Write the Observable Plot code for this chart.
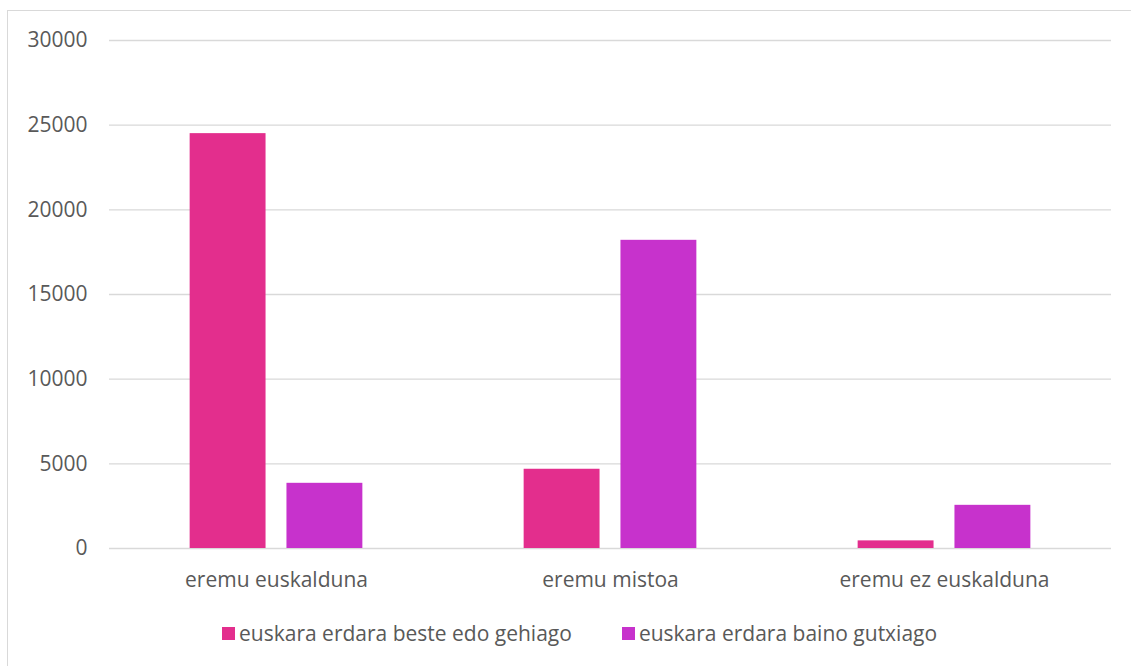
<!DOCTYPE html>
<html>
<head>
<meta charset="utf-8">
<script src="https://cdn.jsdelivr.net/npm/d3@7"></script>
<script src="https://cdn.jsdelivr.net/npm/@observablehq/plot@0.6"></script>
<style>
  body { margin: 0; background: #fff; }
  #wrap { position: relative; width: 1131px; height: 666px; overflow: hidden; font-family: "Open Sans", sans-serif; }
  #frame { position: absolute; left: 7px; top: 10px; width: 1140px; height: 680px; border: 1.5px solid #d9d9d9; box-sizing: border-box; }
  #chart { position: absolute; left: 0; top: 0; }
  #legend { position: absolute; left: 222px; top: 619px; display: flex; gap: 50px; font-size: 21px; color: #595959; }
  .item { display: flex; align-items: center; }
  .sw { width: 13px; height: 13px; margin-right: 4px; }
</style>
</head>
<body>
<div id="wrap">
  <div id="frame"></div>
  <div id="chart"></div>
  <div id="legend"></div>
</div>
<script>
const categories = ["eremu euskalduna", "eremu mistoa", "eremu ez euskalduna"];
const series = ["euskara erdara beste edo gehiago", "euskara erdara baino gutxiago"];
const valuesBeste = [24500, 4680, 450];
const valuesGutxiago = [3850, 18200, 2550];
const yTicks = [0, 5000, 10000, 15000, 20000, 25000, 30000];
const colors = ["#E32E8D", "#C732CC"];

const data = [];
categories.forEach((c, i) => {
  data.push({cat: c, s: series[0], v: valuesBeste[i]});
  data.push({cat: c, s: series[1], v: valuesGutxiago[i]});
});

const chart = Plot.plot({
  width: 1131,
  height: 600,
  marginLeft: 108,
  marginRight: 19,
  marginTop: 40,
  marginBottom: 52,
  style: {fontFamily: "Open Sans, sans-serif", fontSize: "21px", color: "#595959", background: "transparent"},
  fx: {domain: categories, padding: 0, label: null},
  x: {domain: series, paddingInner: 0.216, paddingOuter: 0.833, axis: null, round: false},
  y: {domain: [0, 30000], label: null},
  color: {domain: series, range: colors},
  marks: [
    Plot.gridY(yTicks, {stroke: "#d9d9d9", strokeOpacity: 1, strokeWidth: 1.3}),
    Plot.barY(data, {fx: "cat", x: "s", y: "v", fill: "s"}),
    Plot.axisY(yTicks, {tickSize: 0, tickPadding: 22, tickFormat: d => String(d), label: null, fontSize: 21}),
    Plot.axisFx({anchor: "bottom", tickSize: 0, tickPadding: 24, label: null, fontSize: 21})
  ]
});
document.getElementById("chart").appendChild(chart);

const legend = document.getElementById("legend");
series.forEach((s, i) => {
  const it = document.createElement("div");
  it.className = "item";
  const sw = document.createElement("div");
  sw.className = "sw";
  sw.style.background = colors[i];
  const t = document.createElement("span");
  t.textContent = s;
  it.appendChild(sw);
  it.appendChild(t);
  legend.appendChild(it);
});
</script>
</body>
</html>
